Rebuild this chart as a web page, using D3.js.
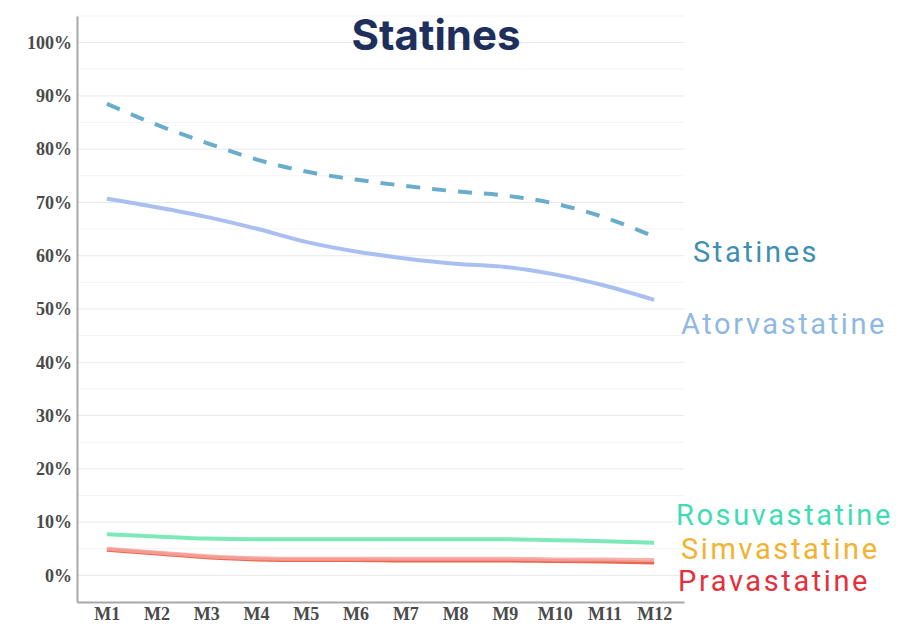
<!DOCTYPE html>
<html><head><meta charset="utf-8">
<script src="https://cdn.jsdelivr.net/npm/d3@7"></script>
<style>body{margin:0;background:#fff}svg{display:block}</style>
</head><body>
<svg id="chart" width="923" height="627"></svg>
<script>
const months = ["M1","M2","M3","M4","M5","M6","M7","M8","M9","M10","M11","M12"];
const statines      = [88.5,84.6,81.2,78.1,75.8,74.3,73.1,72.1,71.3,69.8,67.2,63.6];
const atorvastatine = [70.7,69.1,67.3,65.1,62.6,60.8,59.5,58.5,57.9,56.5,54.4,51.7];
const rosuvastatine = [7.7,7.3,6.9,6.8,6.8,6.8,6.8,6.8,6.8,6.6,6.4,6.1];
const simvastatine  = [5.0,4.3,3.6,3.2,3.1,3.1,3.1,3.1,3.1,3.0,3.0,2.9];
const pravastatine  = [4.8,4.1,3.4,3.0,2.9,2.9,2.8,2.8,2.8,2.7,2.6,2.4];
const yTicks = [0,10,20,30,40,50,60,70,80,90,100];
const seriesNames = ["Statines","Atorvastatine","Rosuvastatine","Simvastatine","Pravastatine"];

const svg = d3.select("#chart");
const pL = 77, pR = 684, pT = 16, pB = 602;
const x = d3.scalePoint().domain(months).range([pL, pR]).padding(0.6);
const y = d3.scaleLinear().domain([-5, 105]).range([pB, pT]);

// grid
const minor = d3.range(5, 106, 10);
svg.append("g").selectAll("line").data(minor).join("line")
  .attr("x1", pL).attr("x2", pR).attr("y1", d => y(d)).attr("y2", d => y(d))
  .attr("stroke", "#f3f3f3").attr("stroke-width", 1);
svg.append("g").selectAll("line").data(yTicks).join("line")
  .attr("x1", pL).attr("x2", pR).attr("y1", d => y(d)).attr("y2", d => y(d))
  .attr("stroke", "#e9e9e9").attr("stroke-width", 1);

// axes
const yAxis = d3.axisLeft(y).tickValues(yTicks).tickFormat(d => d + "%").tickSize(0).tickPadding(5);
const gy = svg.append("g").attr("transform", `translate(${pL},0)`).call(yAxis);
gy.select(".domain").attr("stroke", "#a8a8a8").attr("stroke-width", 2);
gy.selectAll("text").attr("font-family", "'Liberation Serif', 'DejaVu Serif', serif")
  .attr("font-weight", "bold").attr("font-size", 18).attr("fill", "#4a4a4a");

const xAxis = d3.axisBottom(x).tickSize(0).tickPadding(5);
const gx = svg.append("g").attr("transform", `translate(0,${pB})`).call(xAxis);
gx.select(".domain").attr("stroke", "#a8a8a8").attr("stroke-width", 2);
gx.selectAll("text").attr("font-family", "'Liberation Serif', 'DejaVu Serif', serif")
  .attr("font-weight", "bold").attr("font-size", 18).attr("fill", "#4a4a4a");

const line = d3.line().x((d, i) => x(months[i])).y(d => y(d)).curve(d3.curveMonotoneX);

const series = [
  {name: "Prav", data: pravastatine, color: "#e8553c", op: 0.9, dash: null},
  {name: "Simv", data: simvastatine, color: "#f6a4a0", op: 0.85, dash: null},
  {name: "Rosu", data: rosuvastatine, color: "#7de8b8", op: 1, dash: null},
  {name: "Ator", data: atorvastatine, color: "#a9bff2", op: 1, dash: null},
  {name: "Stat", data: statines, color: "#6aaccc", op: 1, dash: "14,12"}
];
svg.append("g").selectAll("path").data(series).join("path")
  .attr("d", d => line(d.data)).attr("fill", "none")
  .attr("stroke", d => d.color).attr("stroke-opacity", d => d.op)
  .attr("stroke-width", 4).attr("stroke-dasharray", d => d.dash);

// title
svg.append("text").attr("x", 436).attr("y", 50).attr("text-anchor", "middle")
  .attr("font-family", "Inter, 'Noto Sans', sans-serif").attr("font-weight", "bold")
  .attr("font-size", 42).attr("fill", "#1e2f5c").text("Statines");

// right labels
const labels = [
  {t: seriesNames[0], x: 693, y: 262, c: "#3f8fb2"},
  {t: seriesNames[1], x: 681, y: 334, c: "#8fb8e2"},
  {t: seriesNames[2], x: 676, y: 525, c: "#3fdcb4"},
  {t: seriesNames[3], x: 681, y: 559, c: "#f2b232"},
  {t: seriesNames[4], x: 678, y: 591, c: "#e3303b"}
];
svg.append("g").selectAll("text").data(labels).join("text")
  .attr("x", d => d.x).attr("y", d => d.y).attr("fill", d => d.c)
  .attr("font-family", "Roboto, 'Noto Sans', sans-serif").attr("font-size", 29)
  .attr("letter-spacing", 2.6)
  .text(d => d.t);
</script>
</body></html>
